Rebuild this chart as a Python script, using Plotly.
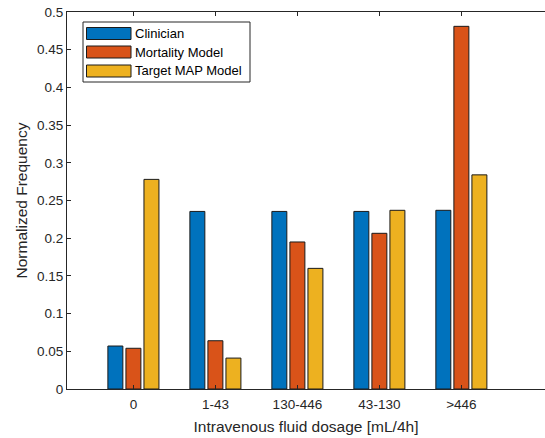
import plotly.graph_objects as go

categories = ["0", "1-43", "130-446", "43-130", ">446"]
clinician = [0.057, 0.2355, 0.2355, 0.2355, 0.237]
mortality = [0.054, 0.064, 0.195, 0.2065, 0.481]
target_map = [0.278, 0.041, 0.160, 0.237, 0.284]
series_names = ["Clinician", "Mortality Model", "Target MAP Model"]
series_colors = ["#0072BD", "#D95319", "#EDB120"]
y_ticks = [0, 0.05, 0.1, 0.15, 0.2, 0.25, 0.3, 0.35, 0.4, 0.45, 0.5]

FIG_W, FIG_H = 545, 438
ML, MT, MB, MR = 67, 12, 49, 0
PLOT_W = FIG_W - ML - MR
PLOT_H = FIG_H - MT - MB

def px_x(x):  # window pixel -> paper x
    return (x - ML) / PLOT_W

def px_y(y):  # window pixel -> paper y
    return (FIG_H - MB - y) / PLOT_H

fig = go.Figure()
for name, vals, col in zip(series_names, [clinician, mortality, target_map], series_colors):
    fig.add_trace(go.Bar(
        x=list(range(len(categories))), y=vals, name=name, showlegend=False,
        marker=dict(color=col, line=dict(color="#1a1a1a", width=1)),
    ))

axis_col = "#262626"
fam = "Liberation Sans, Arial, sans-serif"

# legend drawn MATLAB-style: box, wide swatches, labels
shapes = [dict(type="rect", xref="paper", yref="paper",
               x0=px_x(83), x1=px_x(250), y0=px_y(82), y1=px_y(22),
               line=dict(color=axis_col, width=1), fillcolor="white", layer="above")]
annotations = []
row_centers = [33.5, 52, 71]
for name, col, cy in zip(series_names, series_colors, row_centers):
    shapes.append(dict(type="rect", xref="paper", yref="paper",
                       x0=px_x(86.5), x1=px_x(131), y0=px_y(cy + 6), y1=px_y(cy - 6),
                       line=dict(color="#1a1a1a", width=1), fillcolor=col, layer="above"))
    annotations.append(dict(xref="paper", yref="paper", x=px_x(133), y=px_y(cy),
                            xanchor="left", yanchor="middle", showarrow=False,
                            text=name, font=dict(family=fam, size=13, color="#000000")))

fig.update_layout(
    width=FIG_W, height=FIG_H,
    margin=dict(l=ML, r=MR, t=MT, b=MB, autoexpand=False),
    plot_bgcolor="white", paper_bgcolor="white",
    barmode="group", bargap=0.34, bargroupgap=0.17,
    font=dict(family=fam, size=13.5, color=axis_col),
    shapes=shapes, annotations=annotations,
    xaxis=dict(
        tickmode="array", tickvals=list(range(len(categories))), ticktext=categories,
        range=[-0.81, 5.02], showline=True, linecolor=axis_col, linewidth=1,
        mirror="ticks", ticks="inside", ticklen=4, tickcolor=axis_col,
        showgrid=False, zeroline=False, automargin=False,
        ticklabelstandoff=3, ticklabeloverflow="allow",
        title=dict(text="Intravenous fluid dosage [mL/4h]", standoff=9,
                   font=dict(size=15.5, color=axis_col)),
    ),
    yaxis=dict(
        tickmode="array", tickvals=y_ticks, ticktext=[f"{v:g}" for v in y_ticks],
        range=[0, 0.5], showline=True, linecolor=axis_col, linewidth=1,
        mirror=False, ticks="inside", ticklen=4, tickcolor=axis_col,
        showgrid=False, zeroline=False, automargin=False,
        ticklabeloverflow="allow",
        title=dict(text="Normalized Frequency", standoff=5,
                   font=dict(size=15.5, color=axis_col)),
    ),
)

fig.write_html(
    "out.html",
    config={"displayModeBar": False},
    post_script="document.body.style.margin='0';document.body.style.overflow='hidden';",
)
